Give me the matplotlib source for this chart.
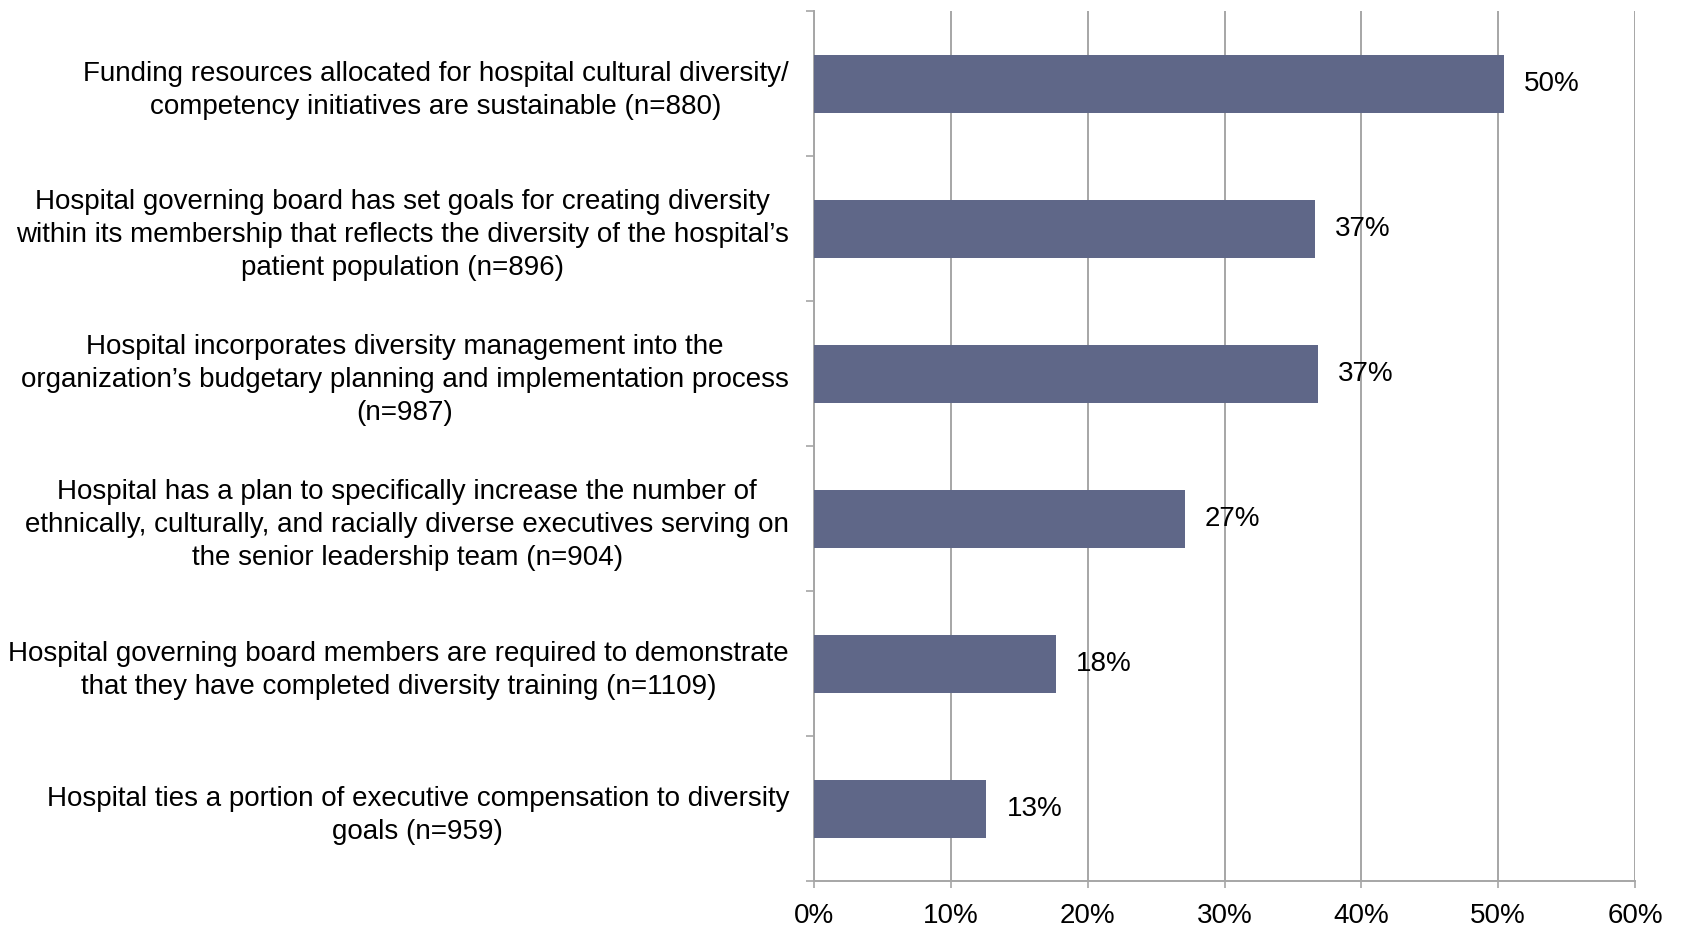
import matplotlib.pyplot as plt
import numpy as np

plt.rcParams['font.family'] = ['Liberation Sans', 'DejaVu Sans']

# datos
categorias = [
    "Funding resources allocated for hospital cultural diversity/\ncompetency initiatives are sustainable (n=880)",
    "Hospital governing board has set goals for creating diversity\nwithin its membership that reflects the diversity of the hospital\u2019s\npatient population (n=896)",
    "Hospital incorporates diversity management into the\norganization\u2019s budgetary planning and implementation process\n(n=987)",
    "Hospital has a plan to specifically increase the number of\nethnically, culturally, and racially diverse executives serving on\nthe senior leadership team (n=904)",
    "Hospital governing board members are required to demonstrate\nthat they have completed diversity training (n=1109)",
    "Hospital ties a portion of executive compensation to diversity\ngoals (n=959)",
]
valores = [50.4, 36.6, 36.8, 27.1, 17.7, 12.6]
xticks = [0, 10, 20, 30, 40, 50, 60]

color_barra = '#5F6788'
color_grid = '#A6A6A6'
fs = 20

fig = plt.figure(figsize=(16.84, 9.27), dpi=100)
ax = fig.add_axes([0.4834, 0.0496, 0.4875, 0.9384])

y = np.arange(len(categorias))
ax.barh(y, valores, height=0.4, color=color_barra, zorder=3)

# etiquetas de valor
for yi, v in zip(y, valores):
    ax.annotate(f"{v:.0f}%", (v, yi), xytext=(20, 0), textcoords='offset pixels',
                va='center', ha='left', fontsize=fs, zorder=4)

ax.set_xlim(0, 60)
ax.set_ylim(len(categorias) - 0.5, -0.5)

ax.set_xticks(xticks)
ax.set_xticklabels([f"{t}%" for t in xticks], fontsize=fs)
ax.tick_params(axis='x', length=5, width=1.2, color=color_grid, pad=11)

ax.set_yticks(y)
ax.set_yticklabels(categorias, fontsize=fs, ma='center', linespacing=1.36)
ax.tick_params(axis='y', which='major', length=0, pad=18)
ax.set_yticks(np.arange(len(categorias) + 1) - 0.5, minor=True)
ax.tick_params(axis='y', which='minor', length=6, width=1.2, color=color_grid)

ax.grid(axis='x', color=color_grid, linewidth=1.4, zorder=0)
ax.set_axisbelow(True)

for lado in ['top', 'right']:
    ax.spines[lado].set_visible(False)
for lado in ['left', 'bottom']:
    ax.spines[lado].set_color(color_grid)
    ax.spines[lado].set_linewidth(1.4)

plt.savefig('out.png', dpi=100)
